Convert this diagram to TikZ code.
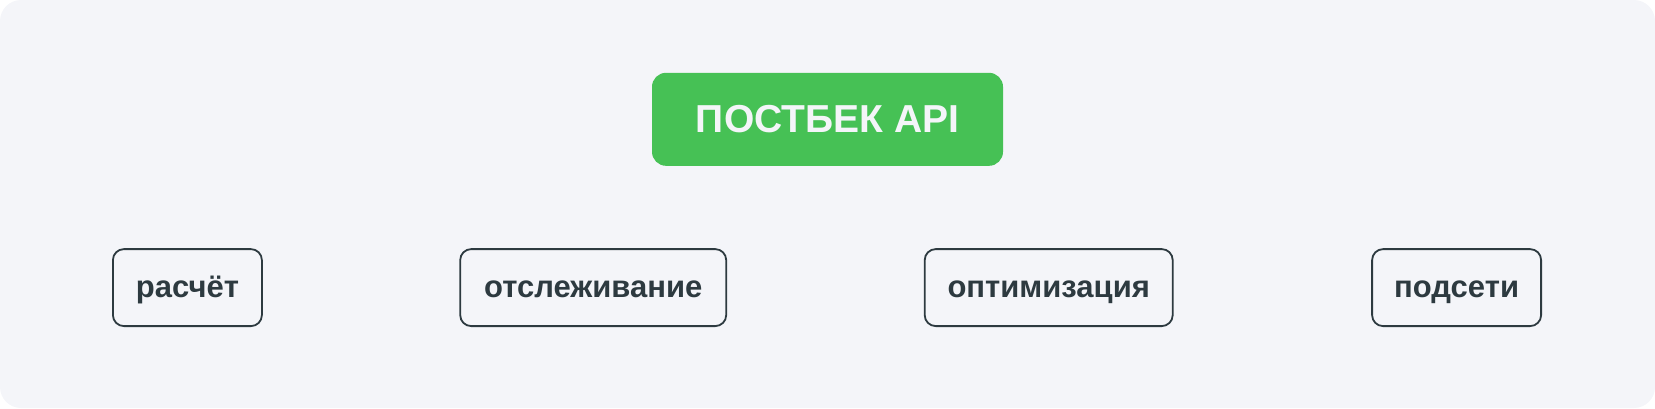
\documentclass[tikz,border=0pt]{standalone}
\usepackage{fontspec}
\setmainfont{Liberation Sans}
\definecolor{bgc}{HTML}{F4F5F9}
\definecolor{grn}{HTML}{46C155}
\definecolor{ink}{HTML}{2D3A40}
\tikzset{
  leaf/.style={draw=ink, line width=1.8pt, rounded corners=11pt, fill=bgc,
    text=ink, font=\bfseries\fontsize{31}{36}\selectfont, inner sep=0pt,
    text height=22pt, text depth=2pt, minimum height=77pt},
  titlebox/.style={fill=grn, rounded corners=14pt, text=bgc,
    font=\bfseries\fontsize{39}{46}\selectfont, inner sep=0pt,
    minimum width=351pt, minimum height=93pt}
}
\begin{document}
\begin{tikzpicture}[x=1pt,y=-1pt]
\useasboundingbox (0,0) rectangle (1655,408);
\fill[bgc, rounded corners=21pt] (0,0) rectangle (1655,408);
\node[titlebox] (api) at (827.5,119.3) {ПОСТБЕК API};
\node[leaf, minimum width=149pt] (calc) at (187.4,287.6) {расчёт};
\node[leaf, minimum width=266pt] (track) at (593.2,287.6) {отслеживание};
\node[leaf, minimum width=248pt] (opt) at (1048.7,287.6) {оптимизация};
\node[leaf, minimum width=169pt] (sub) at (1456.6,287.6) {подсети};
\end{tikzpicture}
\end{document}
